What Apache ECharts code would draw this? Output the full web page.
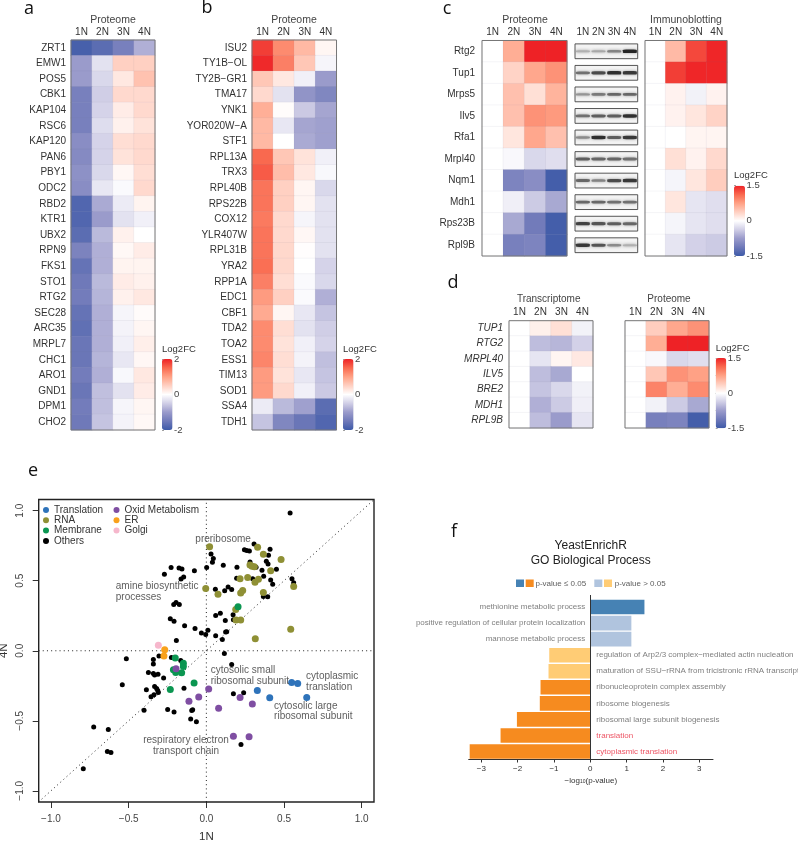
<!DOCTYPE html>
<html><head><meta charset="utf-8">
<style>html,body{margin:0;padding:0;background:#fff}#c{width:798px;height:841px}</style>
<script src="https://cdn.jsdelivr.net/npm/echarts@6/dist/echarts.min.js"></script>
</head><body><div id="c"></div>
<script>
const ploidy = ['1N','2N','3N','4N'];

const genesA = ['ZRT1','EMW1','POS5','CBK1','KAP104','RSC6','KAP120','PAN6','PBY1','ODC2','RBD2','KTR1','UBX2','RPN9','FKS1','STO1','RTG2','SEC28','ARC35','MRPL7','CHC1','ARO1','GND1','DPM1','CHO2'];
const valuesA = [
[-1.9,-1.7,-1.4,-0.8],[-1.0,-0.3,0.5,0.5],[-1.0,-0.4,0.25,0.65],[-1.4,-0.5,0.4,0.4],[-1.4,-0.45,0.2,0.4],
[-1.4,-0.35,0.15,0.3],[-1.2,-0.45,0.35,0.4],[-1.25,-0.45,0.3,0.4],[-1.15,-0.4,0.08,0.35],[-1.2,-0.25,-0.05,0.4],
[-1.8,-0.85,-0.2,0.12],[-1.8,-1.0,-0.3,-0.15],[-1.7,-0.7,0.15,0.0],[-1.35,-0.8,0.07,0.2],[-1.6,-0.8,0.12,0.12],
[-1.5,-0.7,0.2,0.15],[-1.45,-0.75,0.15,0.25],[-1.6,-0.8,-0.1,0.04],[-1.65,-0.8,-0.12,0.1],[-1.55,-0.8,-0.15,0.17],
[-1.55,-0.75,-0.25,0.08],[-1.45,-0.8,-0.07,0.25],[-1.55,-0.65,-0.3,0.2],[-1.45,-0.65,-0.1,0.1],[-1.5,-0.6,-0.12,0.07]];

const genesB = ['ISU2','TY1B\u2212OL','TY2B\u2212GR1','TMA17','YNK1','YOR020W\u2212A','STF1','RPL13A','TRX3','RPL40B','RPS22B','COX12','YLR407W','RPL31B','YRA2','RPP1A','EDC1','CBF1','TDA2','TOA2','ESS1','TIM13','SOD1','SSA4','TDH1'];
const valuesB = [
[1.8,1.2,0.75,0.1],[1.95,1.3,0.6,-0.1],[0.6,0.25,-0.15,-1.0],[0.4,-0.3,-1.1,-1.3],[0.85,0.03,-0.55,-0.9],
[0.75,-0.25,-0.9,-0.95],[0.75,0,-0.85,-0.95],[1.5,0.6,0.3,-0.15],[1.6,0.7,0.25,-0.07],[1.4,0.5,0.1,-0.4],
[1.4,0.5,0.1,-0.3],[1.35,0.4,-0.1,-0.3],[1.4,0.4,0.08,-0.3],[1.4,0.42,0.02,-0.3],[1.45,0.42,0,-0.45],
[1.3,0.35,-0.05,-0.4],[1.05,0.5,-0.05,-0.8],[0.9,0.1,-0.25,-0.6],[1.2,0.35,-0.3,-0.5],[1.2,0.3,-0.15,-0.45],
[1.25,0.35,-0.12,-0.65],[1.05,0.3,-0.25,-0.6],[1.05,0.4,-0.15,-0.55],[-0.2,-0.7,-0.95,-1.7],[-0.6,-1.3,-1.55,-1.8]];

const proteinsC = ['Rtg2','Tup1','Mrps5','Ilv5','Rfa1','Mrpl40','Nqm1','Mdh1','Rps23B','Rpl9B'];
const proteomeC = [[0,0.65,1.5,1.5],[0,0.35,0.7,0.85],[0,0.5,0.25,0.6],[0,0.5,0.85,0.8],[0,0.2,0.7,0.5],[0,-0.05,-0.3,-0.25],[0,-1.0,-0.9,-1.45],[0,-0.12,-0.4,-0.65],[0,-0.65,-1.1,-1.45],[0,-1.05,-1.0,-1.45]];
const immunoC = [[0,0.55,1.3,1.48],[0,1.35,1.48,1.48],[0,0.1,-0.1,0.1],[0,0.1,0.2,0.35],[0,0,0.08,0.08],[0,0.25,0.1,0.3],[0,-0.08,0.2,0.4],[0,0.2,-0.2,-0.25],[0,-0.08,-0.2,-0.25],[0,-0.2,-0.35,-0.4]];
const blotBands = [[0.2,0.25,0.45,0.95],[0.55,0.75,0.9,0.85],[0.35,0.5,0.6,0.6],[0.55,0.65,0.65,0.9],[0.4,0.9,0.65,0.85],[0.65,0.6,0.6,0.55],[0.6,0.45,0.75,0.85],[0.6,0.6,0.55,0.55],[0.8,0.7,0.65,0.6],[0.85,0.7,0.4,0.2]];

const genesD = ['TUP1','RTG2','MRPL40','ILV5','BRE2','MDH1','RPL9B'];
const transcriptD = [[0,0.12,0.25,-0.1],[0,-0.5,-0.55,-0.35],[0,-0.2,0.08,0.18],[0,-0.5,-0.65,0],[0,-0.45,-0.3,-0.1],[0,-0.6,-0.4,-0.12],[0,-0.5,-0.75,-0.2]];
const proteomeD = [[0,0.4,0.7,0.85],[0,0.65,1.5,1.5],[0,-0.05,-0.3,-0.25],[0,0.45,0.85,0.75],[0,0.95,0.65,0.9],[0,-0.1,-0.4,-0.65],[0,-1.05,-1.0,-1.45]];

const others = [[0.539,0.983],[0.307,0.762],[0.245,0.722],[0.26,0.715],[0.277,0.713],[0.41,0.724],[0.40,0.682],[0.03,0.691],[0.045,0.658],[0.039,0.632],[0.002,0.594],[0.109,0.61],[0.197,0.596],[0.281,0.634],[0.386,0.639],[0.397,0.62],[0.358,0.575],[0.451,0.582],[0.32,0.596],[0.195,0.518],[0.369,0.532],[0.298,0.515],[0.414,0.506],[0.427,0.475],[0.551,0.515],[0.562,0.485],[0.058,0.439],[0.118,0.428],[0.14,0.456],[0.163,0.437],[0.367,0.387],[0.395,0.385],[0.06,0.252],[0.09,0.268],[0.172,0.257],[0.122,0.216],[0.174,0.221],[0.06,0.107],[0.124,0.133],[0.131,0.135],[0.103,0.081],[0.116,-0.019],
[-0.27,0.546],[-0.227,0.594],[-0.176,0.591],[-0.157,0.584],[-0.077,0.572],[-0.163,0.513],[-0.146,0.527],[-0.21,0.33],[-0.195,0.344],[-0.174,0.33],[-0.232,0.228],[-0.208,0.211],[-0.14,0.178],[-0.073,0.159],[-0.032,0.126],[-0.004,0.116],[0.01,0.147],[-0.193,0.074],
[-0.515,-0.057],[-0.341,-0.062],[-0.341,-0.095],[-0.305,-0.038],[-0.225,-0.048],[-0.165,-0.069],[-0.373,-0.155],[-0.341,-0.162],[-0.333,-0.174],[-0.311,-0.167],[-0.275,-0.195],[-0.541,-0.243],[-0.333,-0.255],[-0.32,-0.269],[-0.313,-0.283],[-0.309,-0.298],[-0.386,-0.279],[-0.356,-0.329],[-0.337,-0.314],[-0.144,-0.267],[-0.401,-0.424],[-0.249,-0.419],[-0.208,-0.438],[-0.094,-0.426],[-0.088,-0.421],[-0.101,-0.488],[-0.064,-0.507],[-0.725,-0.545],[-0.631,-0.562],[-0.637,-0.719],[-0.614,-0.726],[-0.792,-0.843],[0.163,-0.098],[0.174,-0.307],[0.24,-0.3],[0.223,-0.669]];
const rna = [[0.021,0.743],[0.33,0.739],[0.367,0.689],[0.481,0.651],[0.281,0.613],[0.294,0.603],[0.309,0.599],[0.414,0.572],[0.217,0.515],[0.266,0.523],[0.335,0.511],[0.313,0.489],[-0.004,0.444],[0.075,0.404],[0.234,0.43],[0.221,0.413],[0.367,0.416],[0.562,0.458],[0.189,0.295],[0.191,0.219],[0.221,0.219],[0.543,0.154],[0.315,0.086]];
const membrane = [[0.204,0.314],[-0.2,-0.052],[-0.148,-0.09],[-0.148,-0.112],[-0.212,-0.136],[-0.197,-0.155],[-0.159,-0.157],[-0.079,-0.231],[-0.232,-0.276]];
const oxid = [[-0.195,-0.129],[-0.049,-0.331],[-0.112,-0.36],[0.015,-0.274],[0.217,-0.333],[0.296,-0.381],[0.079,-0.41],[0.174,-0.61],[0.275,-0.614]];
const translation = [[0.328,-0.283],[0.408,-0.336],[0.549,-0.226],[0.588,-0.233],[0.646,-0.333]];
const er = [[-0.268,0.007],[-0.273,-0.038]];
const golgi = [[-0.309,0.04]];
const legendLeft = ['Translation','RNA','Membrane','Others'];
const legendRight = ['Oxid Metabolism','ER','Golgi'];
const annotationTexts = ['preribosome','amine biosynthetic\nprocesses','cytosolic small\nribosomal subunit','cytoplasmic\ntranslation','cytosolic large\nribosomal subunit','respiratory electron\ntransport chain'];
const annotationAnchors = [[0.108,0.798],[-0.583,0.42],[0.028,-0.178],[0.642,-0.221],[0.436,-0.431],[-0.131,-0.677]];

const termsF = ['methionine metabolic process','positive regulation of cellular protein localization','mannose metabolic process','regulation of Arp2/3 complex\u2212mediated actin nucleation','maturation of SSU\u2212rRNA from tricistronic rRNA transcript','ribonucleoprotein complex assembly','ribosome biogenesis','ribosomal large subunit biogenesis','translation','cytoplasmic translation'];
const scoresF = [1.49,1.13,1.13,-1.13,-1.15,-1.37,-1.39,-2.02,-2.47,-3.32];
const ticksF = [-3,-2,-1,0,1,2,3];
const ticksE = [-1,-0.5,0,0.5,1];

const FONT = '"Liberation Sans",Arial,sans-serif';
const HEAT = ['#3d5aa8','#6f79b9','#9a9bcb','#d0cee6','#ffffff','#ffd0c2','#ffa185','#f9694f','#ee2226'];
const grid=[], xAxis=[], yAxis=[], series=[], visualMap=[], title=[];

function text(t,x,y,size,color,align,extra){
  title.push({text:t,left:x,top:y-size*0.42,padding:0,textAlign:align||'center',
    textStyle:Object.assign({fontFamily:FONT,fontSize:size,fontWeight:'normal',color:color||'#444'},extra||{})});
}
function heat(box,rows,values,range,opts){
  opts=opts||{};
  const g=grid.length;
  grid.push({left:box[0],top:box[1],width:box[2],height:box[3],show:true,borderColor:'#777',borderWidth:1,z:3,outerBoundsMode:'none'});
  xAxis.push({type:'category',gridIndex:g,position:'top',data:ploidy,axisLine:{show:false},axisTick:{show:false},splitLine:{show:false},
    axisLabel:{interval:0,margin:opts.xm||3,fontFamily:FONT,fontSize:10,color:'#333'}});
  yAxis.push({type:'category',gridIndex:g,inverse:true,data:rows,axisLine:{show:false},axisTick:{show:false},splitLine:{show:false},
    axisLabel:{show:opts.noY?false:true,interval:0,margin:opts.ym||5,fontFamily:FONT,fontSize:10,color:'#333',fontStyle:opts.italic?'italic':'normal'}});
  const data=[]; values.forEach((r,i)=>r.forEach((v,j)=>data.push([j,i,v])));
  series.push({type:'heatmap',xAxisIndex:g,yAxisIndex:g,data,progressive:0,animation:false,
    itemStyle:{borderColor:'rgba(130,130,150,0.14)',borderWidth:0.5},emphasis:{disabled:true}});
  return series.length-1;
}
function colorbar(sIdx,x,y,w,h,range){
  visualMap.push({type:'continuous',seriesIndex:sIdx,min:-range,max:range,dimension:2,calculable:false,show:true,
    left:x,top:y,itemWidth:w,itemHeight:h,padding:0,text:['',''],showLabel:false,inRange:{color:HEAT},hoverLink:false});
  const g=grid.length;
  grid.push({left:x,top:y,width:w,height:h,show:false,outerBoundsMode:'none'});
  xAxis.push({type:'value',gridIndex:g,show:false,min:0,max:1});
  yAxis.push({type:'value',gridIndex:g,position:'right',min:-range,max:range,interval:range/2,splitLine:{show:false},
    axisLine:{show:false},axisTick:{show:true,length:2,lineStyle:{color:'#777',width:0.7}},
    axisLabel:{margin:1.5,fontFamily:FONT,fontSize:9.5,color:'#444',customValues:[range,0,-range],formatter:v=>String(v)}});
  text('Log2FC',x,y-11,9.5,'#333','left');
}

// Panels a, b
const sA=heat([71,40,84,390],genesA,valuesA);
const sB=heat([252,40,84.5,390],genesB,valuesB);
colorbar(sA,162,359,10.5,71,2);
colorbar(sB,343,359,10.5,71,2);
// Panel c
const sC1=heat([482,40.5,85,215.5],proteinsC,proteomeC,1.5,{ym:7});
const sC2=heat([645,40.5,82,215.5],proteinsC,immunoC,1.5,{noY:true});
colorbar([sC1,sC2],734,185.7,11,70.3,1.5);
// blots
(function(){
  const g=grid.length;
  grid.push({left:575,top:40.5,width:62.7,height:215.5,show:false,outerBoundsMode:'none'});
  xAxis.push({type:'category',gridIndex:g,position:'top',data:ploidy,axisLine:{show:false},axisTick:{show:false},
    axisLabel:{interval:0,margin:3,fontFamily:FONT,fontSize:10,color:'#333'}});
  yAxis.push({type:'category',gridIndex:g,inverse:true,data:proteinsC,axisLine:{show:false},axisTick:{show:false},axisLabel:{show:false}});
  series.push({type:'custom',xAxisIndex:g,yAxisIndex:g,data:proteinsC.map((p,i)=>[0,i]),encode:{x:0,y:1},animation:false,silent:true,
    renderItem(p,api){
      const c=api.coord([0,api.value(1)]);
      return {type:'rect',shape:{x:p.coordSys.x,y:c[1]-7.4,width:p.coordSys.width,height:14.8},
        style:{fill:'#f3f3f3',stroke:'#444',lineWidth:0.9}};
    }});
  const bands=[]; blotBands.forEach((r,i)=>r.forEach((v,j)=>bands.push([j,i,v])));
  series.push({type:'scatter',xAxisIndex:g,yAxisIndex:g,data:bands,symbol:'roundRect',animation:false,silent:true,z:4,
    symbolSize:d=>[14,1.6+d[2]*2.2],itemStyle:{shadowBlur:3,shadowColor:'rgba(70,70,70,0.55)',opacity:0.95}});
  visualMap.push({type:'continuous',seriesIndex:series.length-1,min:0,max:1,dimension:2,show:false,inRange:{color:['#d6d6d6','#141414']}});
})();
// Panel d
const sD1=heat([509,320.7,84,107.3],genesD,transcriptD,1.5,{italic:true,ym:6});
const sD2=heat([625,320.7,84,107.3],genesD,proteomeD,1.5,{noY:true});
colorbar([sD1,sD2],715.7,358,10.6,70.3,1.5);

// Panel e
(function(){
  const g=grid.length;
  grid.push({left:38.7,top:499.5,width:335.3,height:302.5,show:true,borderColor:'#222',borderWidth:1.4,z:5,outerBoundsMode:'none'});
  const lab=v=>v.toFixed(1).replace('-','\u2212');
  xAxis.push({type:'value',gridIndex:g,min:-1.079,max:1.079,name:'1N',nameLocation:'middle',nameGap:29,
    nameTextStyle:{fontFamily:FONT,fontSize:11.5,color:'#333'},splitLine:{show:false},axisLine:{show:false,onZero:false},
    axisTick:{show:true,length:6,customValues:ticksE,lineStyle:{color:'#333'}},
    axisLabel:{margin:12,fontFamily:FONT,fontSize:10,color:'#444',customValues:ticksE,formatter:lab}});
  yAxis.push({type:'value',gridIndex:g,min:-1.08,max:1.08,name:'4N',nameLocation:'middle',nameGap:29,
    nameTextStyle:{fontFamily:FONT,fontSize:11.5,color:'#333'},splitLine:{show:false},axisLine:{show:false,onZero:false},
    axisTick:{show:true,length:6,customValues:ticksE,lineStyle:{color:'#333'}},
    axisLabel:{rotate:90,margin:13,fontFamily:FONT,fontSize:10,color:'#444',customValues:ticksE,formatter:lab}});
  const dotted={color:'#222',width:1,type:[1,3.2]};
  [[[-1.08,-1.08],[1.08,1.08]],[[0,-1.08],[0,1.08]],[[-1.08,0],[1.08,0]]].forEach(d=>
    series.push({type:'line',xAxisIndex:g,yAxisIndex:g,data:d,showSymbol:false,silent:true,lineStyle:dotted,animation:false,z:1}));
  const sc=(name,data,color,size)=>series.push({type:'scatter',name,xAxisIndex:g,yAxisIndex:g,data,symbolSize:size,animation:false,z:3,itemStyle:{color,opacity:1}});
  sc('Others',others,'#000',5);
  sc('RNA',rna,'#8f9035',7);
  sc('Membrane',membrane,'#0b9651',7);
  sc('Oxid Metabolism',oxid,'#7f4ea2',7);
  sc('Translation',translation,'#2e73ba',7);
  sc('ER',er,'#f9a11b',7);
  sc('Golgi',golgi,'#f6b7cc',7);
  series.push({type:'scatter',xAxisIndex:g,yAxisIndex:g,symbolSize:0,animation:false,silent:true,z:6,
    data:annotationTexts.map((t,i)=>({value:annotationAnchors[i],
      label:{show:true,formatter:t,position:(i===0||i===5)?'inside':'right',distance:0,align:(i===0||i===5)?'center':'left',
        verticalAlign:'middle',fontFamily:FONT,fontSize:10,lineHeight:10.5,color:'#333'}}))});
})();

// Panel f
(function(){
  const g=grid.length;
  grid.push({left:468.7,top:599,width:244.3,height:160.5,show:false,outerBoundsMode:'none'});
  const t=v=>String(v).replace('-','\u2212');
  xAxis.push({type:'value',gridIndex:g,min:-3.347,max:3.377,name:'\u2212log{s|10}(p-value)',nameLocation:'middle',nameGap:17,
    nameTextStyle:{fontFamily:FONT,fontSize:8,color:'#333',rich:{s:{fontSize:5,verticalAlign:'bottom',fontFamily:FONT,color:'#333'}}},
    splitLine:{show:false},axisLine:{show:true,onZero:false,lineStyle:{color:'#333',width:1}},
    axisTick:{show:true,length:3,customValues:ticksF,lineStyle:{color:'#333'}},
    axisLabel:{margin:5,fontFamily:FONT,fontSize:8,color:'#333',customValues:ticksF,formatter:t}});
  yAxis.push({type:'category',gridIndex:g,inverse:true,data:termsF,axisTick:{show:false},axisLabel:{show:false},
    axisLine:{show:true,onZero:true,lineStyle:{color:'#333',width:1}},z:6});
  const col=(v,i)=>{const sig=[0,5,6,7,8,9].includes(i);return v>0?(sig?'#4682b4':'#b0c4de'):(sig?'#f68b1f':'#ffcc75');};
  series.push({type:'bar',xAxisIndex:g,yAxisIndex:g,barWidth:14.6,animation:false,silent:true,
    data:scoresF.map((v,i)=>({value:v,itemStyle:{color:col(v,i)}}))});
  series.push({type:'scatter',xAxisIndex:g,yAxisIndex:g,symbolSize:0,animation:false,silent:true,
    data:termsF.map((n,i)=>({value:[0,i],label:{show:true,formatter:n,position:scoresF[i]>0?'left':'right',distance:scoresF[i]>0?5:6,
      fontFamily:FONT,fontSize:8,color:i>=8?'#e8283c':'#5e5e5e'}}))});
})();

// Text labels
[['Proteome',113],['Proteome',294],['Proteome',525],['Immunoblotting',686]].forEach(a=>text(a[0],a[1],19,10.5,'#444'));
[['Transcriptome',548.7],['Proteome',669]].forEach(a=>text(a[0],a[1],298.5,10,'#444'));
[['a',29,7],['b',207,6],['c',447,7],['d',453,281],['e',33,469],['f',454,530]].forEach(a=>text(a[0],a[1],a[2],18,'#111','center',{fontFamily:'"Open Sans",sans-serif'}));
text('YeastEnrichR',590.7,545,12,'#222');
text('GO Biological Process',590.7,560,12,'#222');
text('p-value \u2264 0.05',535.5,583,8,'#5e5e5e','left');
text('p-value > 0.05',614.7,583,8,'#5e5e5e','left');

const graphic=[
  {type:'rect',left:516,top:579.5,shape:{width:8,height:7.5},style:{fill:'#4682b4'}},
  {type:'rect',left:525.7,top:579.5,shape:{width:8,height:7.5},style:{fill:'#f68b1f'}},
  {type:'rect',left:594.3,top:579.5,shape:{width:8,height:7.5},style:{fill:'#b0c4de'}},
  {type:'rect',left:604,top:579.5,shape:{width:8,height:7.5},style:{fill:'#ffcc75'}},
  {type:'line',shape:{x1:590.5,y1:595,x2:590.5,y2:600},style:{stroke:'#333',lineWidth:1}}
];

const leg=(data,left)=>({data:data.map(n=>({name:n,icon:'circle'})),left,top:505,orient:'vertical',padding:0,itemWidth:6,itemHeight:6,itemGap:0.3,
  selectedMode:false,textStyle:{fontFamily:FONT,fontSize:10,color:'#333',padding:[0,0,0,0]},z:10});

const chart=echarts.init(document.getElementById('c'),null,{renderer:'canvas'});
chart.setOption({animation:false,backgroundColor:'#fff',title,grid,xAxis,yAxis,series,visualMap,graphic,
  legend:[leg(legendLeft,43),leg(legendRight,113.5)],tooltip:{show:false}});
</script></body></html>
